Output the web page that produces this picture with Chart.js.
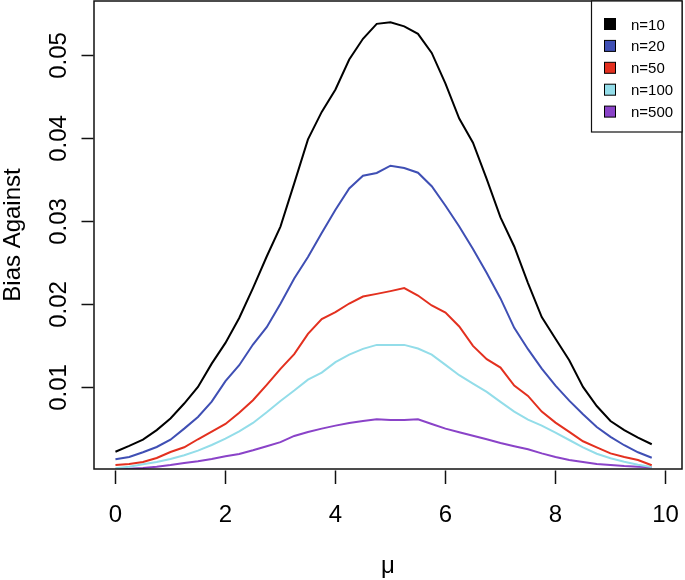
<!DOCTYPE html>
<html>
<head>
<meta charset="utf-8">
<script src="https://cdn.jsdelivr.net/npm/chart.js@4/dist/chart.umd.min.js"></script>
<style>
  html, body { margin: 0; padding: 0; background: #ffffff; }
  #wrap { width: 685px; height: 580px; }
  canvas { display: block; }
</style>
</head>
<body>
<div id="wrap"><canvas id="c" width="685" height="580"></canvas></div>
<script>
// ---- data ----
const mu = [0, 0.25, 0.5, 0.75, 1, 1.25, 1.5, 1.75, 2, 2.25, 2.5, 2.75, 3, 3.25, 3.5, 3.75, 4, 4.25, 4.5, 4.75,
            5, 5.25, 5.5, 5.75, 6, 6.25, 6.5, 6.75, 7, 7.25, 7.5, 7.75, 8, 8.25, 8.5, 8.75, 9, 9.25, 9.5, 9.75];

const n10 = [0.0022, 0.0029, 0.00365, 0.0048, 0.0062, 0.0080, 0.0100, 0.0128, 0.0153, 0.0183, 0.0219, 0.0257,
             0.0293, 0.0345, 0.0398, 0.0431, 0.0458, 0.0494, 0.0519, 0.0537, 0.0539, 0.0534, 0.0525, 0.0502,
             0.0465, 0.0423, 0.0394, 0.0350, 0.0304, 0.0269, 0.0225, 0.0184, 0.0158, 0.0132, 0.0100, 0.0077,
             0.0059, 0.0048, 0.0039, 0.0031];

const n20 = [0.00129, 0.00157, 0.00213, 0.00277, 0.00365, 0.00498, 0.00639, 0.00823, 0.01069, 0.01261, 0.0151,
             0.01719, 0.0200, 0.02305, 0.02563, 0.02852, 0.03133, 0.03389, 0.03542, 0.03575, 0.03663, 0.03635,
             0.03578, 0.03415, 0.03181, 0.02931, 0.02659, 0.0237, 0.02065, 0.01711, 0.01454, 0.0122, 0.01016,
             0.00835, 0.00671, 0.00518, 0.00398, 0.00298, 0.00213, 0.00148];

const n50 = [0.0006, 0.00072, 0.00096, 0.00145, 0.00217, 0.00273, 0.0037, 0.00462, 0.00554, 0.0069, 0.0084,
             0.01024, 0.01217, 0.01394, 0.01639, 0.01816, 0.019, 0.02004, 0.02088, 0.0212, 0.02153, 0.02189,
             0.021, 0.0198, 0.01895, 0.01727, 0.01494, 0.01334, 0.01233, 0.01016, 0.00892, 0.00703, 0.0057,
             0.00458, 0.00346, 0.00273, 0.002, 0.00157, 0.0012, 0.00057];

const n100 = [0.0002, 0.0004, 0.00069, 0.00096, 0.00133, 0.00177, 0.00233, 0.00301, 0.00378, 0.00466, 0.00566,
              0.00695, 0.0083, 0.00956, 0.01088, 0.01172, 0.01298, 0.01389, 0.01458, 0.01506, 0.01506, 0.01506,
              0.01462, 0.01389, 0.01265, 0.01141, 0.0104, 0.0094, 0.0082, 0.00703, 0.00606, 0.00534, 0.00449,
              0.00361, 0.00273, 0.00196, 0.00141, 0.001, 0.00064, 0.00036];

const n500 = [0.0001, 0.00015, 0.00024, 0.0004, 0.0006, 0.00084, 0.00105, 0.00133, 0.00165, 0.00193, 0.00237,
              0.00286, 0.00335, 0.0041, 0.00458, 0.00498, 0.00534, 0.00566, 0.0059, 0.00611, 0.00602, 0.00602,
              0.00611, 0.00554, 0.00498, 0.00454, 0.00413, 0.0037, 0.00325, 0.00286, 0.0025, 0.002, 0.00157,
              0.0012, 0.00096, 0.00072, 0.0006, 0.00048, 0.0004, 0.00033];

const seriesNames = ['n=10', 'n=20', 'n=50', 'n=100', 'n=500'];
const seriesColors = ['#000000', '#3f4fb4', '#e3301f', '#93dde9', '#8a43c8'];

const xTickValues = [0, 2, 4, 6, 8, 10];
const xTickLabels = ['0', '2', '4', '6', '8', '10'];
const yTickValues = [0.01, 0.02, 0.03, 0.04, 0.05];
const yTickLabels = ['0.01', '0.02', '0.03', '0.04', '0.05'];

const xTitle = 'μ';
const yTitle = 'Bias Against';

// ---- build chart ----
const seriesValues = [n10, n20, n50, n100, n500];
const FONT = '"Liberation Sans", Arial, Helvetica, sans-serif';

function pts(vals) { return vals.map((v, i) => ({ x: mu[i], y: v })); }

const datasets = seriesValues.map((vals, i) => ({
  label: seriesNames[i],
  data: pts(vals),
  borderColor: seriesColors[i],
  backgroundColor: seriesColors[i],
  borderWidth: 2,
  pointRadius: 0,
  tension: 0,
  fill: false,
  clip: 0
}));

const rAxes = {
  id: 'rAxes',
  afterDraw(chart) {
    const ctx = chart.ctx;
    const a = chart.chartArea;
    const xs = chart.scales.x, ys = chart.scales.y;
    ctx.save();
    // plot box
    ctx.strokeStyle = '#111';
    ctx.lineWidth = 1.5;
    ctx.strokeRect(a.left, a.top, a.right - a.left, a.bottom - a.top);

    // x ticks and labels
    ctx.lineWidth = 1.5;
    ctx.fillStyle = '#000';
    ctx.font = '24px ' + FONT;
    ctx.textAlign = 'center';
    ctx.textBaseline = 'alphabetic';
    xTickValues.forEach((v, i) => {
      const px = Math.round(xs.getPixelForValue(v)) + 0.5;
      ctx.beginPath();
      ctx.moveTo(px, a.bottom + 1.5);
      ctx.lineTo(px, a.bottom + 15);
      ctx.stroke();
      ctx.fillText(xTickLabels[i], px, a.bottom + 52.5);
    });

    // y ticks and labels (rotated as in base R)
    yTickValues.forEach((v, i) => {
      const py = Math.round(ys.getPixelForValue(v)) + 0.5;
      ctx.beginPath();
      ctx.moveTo(a.left - 0.5, py);
      ctx.lineTo(a.left - 12.5, py);
      ctx.stroke();
      ctx.save();
      ctx.translate(a.left - 28, py);
      ctx.rotate(-Math.PI / 2);
      ctx.textAlign = 'center';
      ctx.fillText(yTickLabels[i], 0, 0);
      ctx.restore();
    });

    // axis titles
    ctx.textAlign = 'center';
    ctx.fillText(xTitle, (a.left + a.right) / 2, 573);
    ctx.save();
    ctx.translate(20, (a.top + a.bottom) / 2);
    ctx.rotate(-Math.PI / 2);
    ctx.fillText(yTitle, 0, 0);
    ctx.restore();

    // legend (top right, inside plot)
    const lx = 591, ly = a.top, lw = a.right - 591, lh = 131;
    ctx.fillStyle = '#fff';
    ctx.fillRect(lx, ly, lw, lh);
    ctx.strokeStyle = '#111';
    ctx.lineWidth = 1.2;
    ctx.strokeRect(lx + 0.5, ly, lw - 0.5, lh);
    ctx.font = '15px ' + FONT;
    ctx.textAlign = 'left';
    chart.data.datasets.forEach((ds, i) => {
      const cy = 24 + i * 21.9;
      ctx.fillStyle = ds.borderColor;
      ctx.fillRect(604.5, cy - 5.5, 11, 11);
      ctx.strokeStyle = '#000';
      ctx.lineWidth = 1;
      ctx.strokeRect(604.5, cy - 5.5, 11, 11);
      ctx.fillStyle = '#000';
      ctx.fillText(ds.label, 631, cy + 5.5);
    });
    ctx.restore();
  }
};

new Chart(document.getElementById('c'), {
  type: 'line',
  data: { datasets },
  options: {
    responsive: false,
    devicePixelRatio: 1,
    animation: false,
    events: [],
    layout: { padding: { left: 94, right: 3, top: 1, bottom: 111 } },
    plugins: { legend: { display: false }, tooltip: { enabled: false } },
    scales: {
      x: { type: 'linear', min: -0.39, max: 10.3, display: false },
      y: { type: 'linear', min: 0.00012, max: 0.05645, display: false }
    }
  },
  plugins: [rAxes]
});
</script>
</body>
</html>
